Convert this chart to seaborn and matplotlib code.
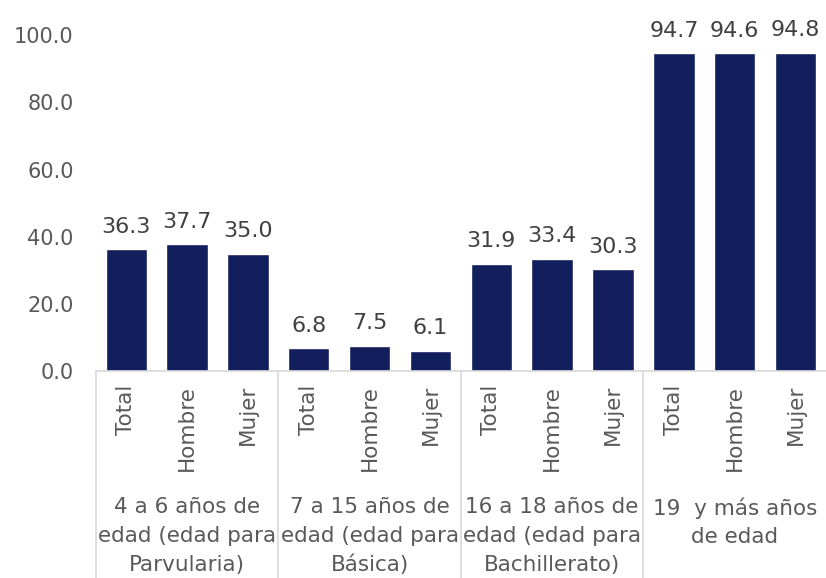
import pandas as pd
import numpy as np
import matplotlib.pyplot as plt
import seaborn as sns

# data
grupos = ["4 a 6 años de\nedad (edad para\nParvularia)",
          "7 a 15 años de\nedad (edad para\nBásica)",
          "16 a 18 años de\nedad (edad para\nBachillerato)",
          "19  y más años\nde edad"]
sexos = ["Total", "Hombre", "Mujer"]
valores = [36.3, 37.7, 35.0,
           6.8, 7.5, 6.1,
           31.9, 33.4, 30.3,
           94.7, 94.6, 94.8]

df = pd.DataFrame({
    "grupo": np.repeat(range(len(grupos)), len(sexos)),
    "sexo": sexos * len(grupos),
    "valor": valores,
})
df["clave"] = df["grupo"].astype(str) + "_" + df["sexo"]

sns.set_theme(style="white")
plt.rcParams["font.family"] = ["DejaVu Sans"]

gris = "#595959"
fig = plt.figure(figsize=(8.26, 5.78), dpi=100)
ax = fig.add_axes([0.116, 0.358, 0.884, 0.581])

sns.barplot(data=df, x="clave", y="valor", color="#131F5C", saturation=1,
            width=0.68, ax=ax)

ax.set_xlim(-0.5, len(valores) - 0.5)
ax.set_ylim(0, 100)
ax.set_yticks(np.arange(0, 101, 20))
ax.set_yticklabels([f"{v:.1f}" for v in np.arange(0, 101, 20)], fontsize=15, color=gris)
ax.set_xticks(range(len(valores)))
ax.set_xticklabels(df["sexo"], rotation=90, fontsize=15.5, color=gris)
ax.tick_params(axis="x", length=0, pad=10)
ax.tick_params(axis="y", length=0, pad=16)
ax.set_xlabel("")
ax.set_ylabel("")

for lado in ["left", "right", "top"]:
    ax.spines[lado].set_visible(False)
ax.spines["bottom"].set_color("#D9D9D9")
ax.spines["bottom"].set_linewidth(1.2)

# value labels
ax.bar_label(ax.containers[0], labels=[f"{v:.1f}" for v in valores],
             padding=9, fontsize=16, color="#404040", clip_on=False)

# group separators and group labels
trans = ax.get_xaxis_transform()
for i in range(len(grupos)):
    x0 = i * 3 - 0.5
    ax.plot([x0, x0], [0, -0.62], color="#D9D9D9", lw=1.2, transform=trans, clip_on=False)
    ax.text(i * 3 + 1, -0.375, grupos[i], transform=trans, ha="center", va="top",
            fontsize=15.5, color=gris, linespacing=1.55)

fig.savefig("out.png", dpi=100)
